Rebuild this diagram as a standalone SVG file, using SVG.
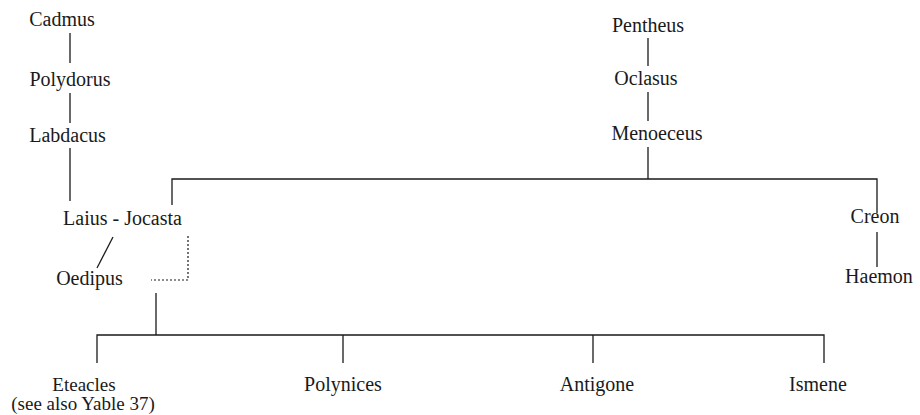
<svg xmlns="http://www.w3.org/2000/svg" width="920" height="415" viewBox="0 0 920 415">
<rect width="920" height="415" fill="#fff"/>
<g id="connectors" stroke="#1a1a1a" stroke-width="1.3" fill="none">
<line x1="70" y1="33" x2="70" y2="63"/>
<line x1="70" y1="93" x2="70" y2="123"/>
<line x1="70" y1="148" x2="70" y2="201"/>
<line x1="648" y1="38" x2="648" y2="66"/>
<line x1="648" y1="92" x2="648" y2="121"/>
<line x1="648" y1="147" x2="648" y2="179"/>
<polyline points="172,205 172,179 877,179 877,213"/>
<line x1="877" y1="232" x2="877" y2="267"/>
<line x1="113" y1="237" x2="97" y2="268"/>
<polyline points="188,236 188,280 151,280" stroke-width="1.2" stroke-dasharray="2 2"/>
<line x1="156" y1="293" x2="156" y2="335"/>
<polyline points="97,363 97,335 824,335 824,363"/>
<line x1="343" y1="335" x2="343" y2="363"/>
<line x1="593" y1="335" x2="593" y2="363"/>
</g>
<g id="cadmus"><text x="62" y="26" style="font-family:'Liberation Serif',serif;font-size:20px;fill:#1a1a1a;text-anchor:middle">Cadmus</text></g>
<g id="polydorus"><text x="70" y="86" style="font-family:'Liberation Serif',serif;font-size:20px;fill:#1a1a1a;text-anchor:middle">Polydorus</text></g>
<g id="labdacus"><text x="67.5" y="142" style="font-family:'Liberation Serif',serif;font-size:20px;fill:#1a1a1a;text-anchor:middle">Labdacus</text></g>
<g id="laius-jocasta"><text x="122.5" y="225" style="font-family:'Liberation Serif',serif;font-size:20px;fill:#1a1a1a;text-anchor:middle">Laius - Jocasta</text></g>
<g id="oedipus"><text x="89.5" y="285" style="font-family:'Liberation Serif',serif;font-size:20px;fill:#1a1a1a;text-anchor:middle">Oedipus</text></g>
<g id="pentheus"><text x="648" y="32" style="font-family:'Liberation Serif',serif;font-size:20px;fill:#1a1a1a;text-anchor:middle">Pentheus</text></g>
<g id="oclasus"><text x="646" y="85" style="font-family:'Liberation Serif',serif;font-size:20px;fill:#1a1a1a;text-anchor:middle">Oclasus</text></g>
<g id="menoeceus"><text x="657" y="140" style="font-family:'Liberation Serif',serif;font-size:20px;fill:#1a1a1a;text-anchor:middle">Menoeceus</text></g>
<g id="creon"><text x="875" y="223" style="font-family:'Liberation Serif',serif;font-size:20px;fill:#1a1a1a;text-anchor:middle">Creon</text></g>
<g id="haemon"><text x="879" y="283" style="font-family:'Liberation Serif',serif;font-size:20px;fill:#1a1a1a;text-anchor:middle">Haemon</text></g>
<g id="eteacles"><text x="84" y="391" style="font-family:'Liberation Serif',serif;font-size:19px;fill:#1a1a1a;text-anchor:middle">Eteacles</text><text x="83" y="410" style="font-family:'Liberation Serif',serif;font-size:19px;fill:#1a1a1a;text-anchor:middle">(see also Yable 37)</text></g>
<g id="polynices"><text x="343" y="391" style="font-family:'Liberation Serif',serif;font-size:20px;fill:#1a1a1a;text-anchor:middle">Polynices</text></g>
<g id="antigone"><text x="597" y="391" style="font-family:'Liberation Serif',serif;font-size:20px;fill:#1a1a1a;text-anchor:middle">Antigone</text></g>
<g id="ismene"><text x="818" y="391" style="font-family:'Liberation Serif',serif;font-size:20px;fill:#1a1a1a;text-anchor:middle">Ismene</text></g>
</svg>
